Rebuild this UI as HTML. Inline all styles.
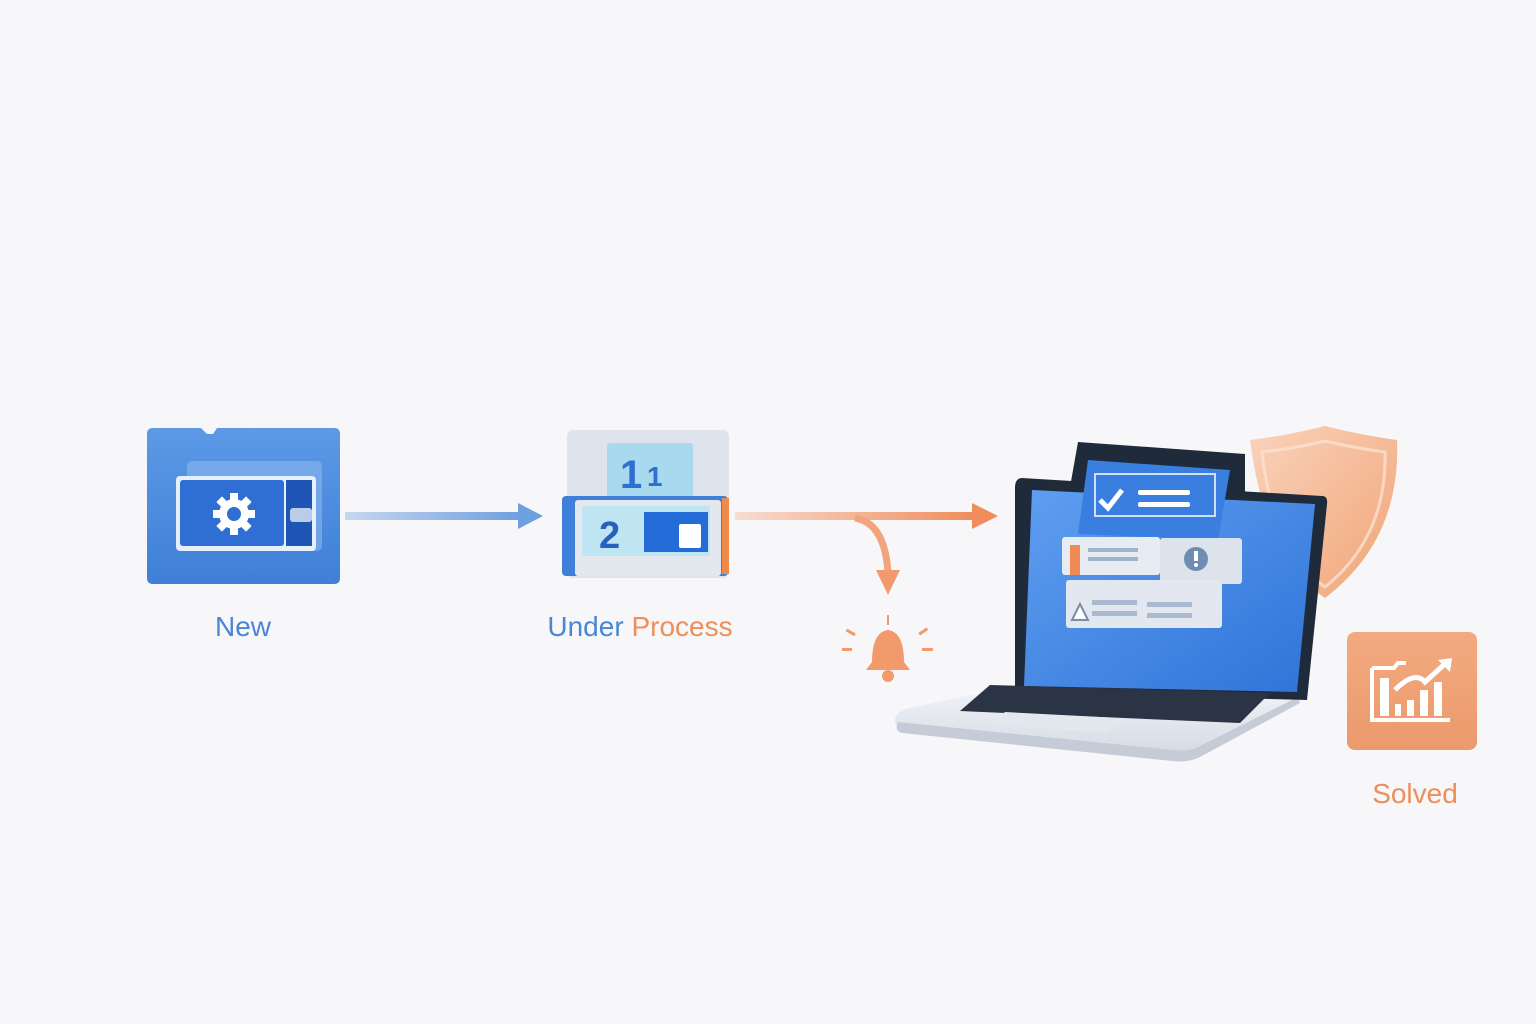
<!DOCTYPE html>
<html><head><style>
html,body{margin:0;padding:0;background:#f7f7fa;}
svg{display:block;}
text{font-family:"Liberation Sans","DejaVu Sans",sans-serif;}
</style></head><body>
<svg width="1536" height="1024" viewBox="0 0 1536 1024" xmlns="http://www.w3.org/2000/svg">
<defs>
<linearGradient id="fold" x1="0" y1="0" x2="0" y2="1"><stop offset="0" stop-color="#5c9ae6"/><stop offset="1" stop-color="#3f7fd6"/></linearGradient>
<linearGradient id="a1" x1="0" x2="1"><stop offset="0" stop-color="#c7d7ef"/><stop offset="1" stop-color="#6e9fde"/></linearGradient>
<linearGradient id="a2" x1="0" x2="1"><stop offset="0" stop-color="#f6ddd3"/><stop offset="1" stop-color="#f08d5b"/></linearGradient>
<linearGradient id="scr" x1="0" y1="0" x2="1" y2="1"><stop offset="0" stop-color="#5f9ef0"/><stop offset="1" stop-color="#2f74d8"/></linearGradient>
<linearGradient id="sh" x1="0" y1="0" x2="1" y2="1"><stop offset="0" stop-color="#fad3bd"/><stop offset="1" stop-color="#f0a475"/></linearGradient>
<linearGradient id="sol" x1="0" y1="0" x2="0" y2="1"><stop offset="0" stop-color="#f3aa80"/><stop offset="1" stop-color="#eb9a6c"/></linearGradient>
<linearGradient id="base" x1="0" y1="0" x2="0" y2="1"><stop offset="0" stop-color="#f1f4f8"/><stop offset="1" stop-color="#d3d9e3"/></linearGradient>
</defs>
<rect width="1536" height="1024" fill="#f7f7fa"/>

<!-- New folder -->
<path d="M147 434 q0-6 6-6 h48 l6 6 l6 0 l4-6 h117 q6 0 6 6 v144 q0 6-6 6 h-181 q-6 0-6-6z" fill="url(#fold)"/>
<rect x="187" y="461" width="135" height="90" rx="5" fill="#8ab7ee" opacity="0.6"/>
<rect x="176" y="476" width="140" height="75" rx="4" fill="#e6f0fb"/>
<rect x="180" y="480" width="104" height="66" rx="3" fill="#2f6fd3"/>
<rect x="286" y="480" width="26" height="66" fill="#1f55b5"/>
<rect x="290" y="508" width="22" height="14" rx="3" fill="#b9cde9"/>
<g transform="translate(234,514)" fill="#fff">
<circle r="15"/>
<g><rect x="-4" y="-21" width="8" height="42"/><rect x="-21" y="-4" width="42" height="8"/><rect x="-4" y="-21" width="8" height="42" transform="rotate(45)"/><rect x="-4" y="-21" width="8" height="42" transform="rotate(-45)"/></g>
<circle r="7" fill="#2f6fd3"/>
</g>
<text x="243" y="636" font-size="28" fill="#4a86d6" text-anchor="middle">New</text>

<!-- arrow 1 -->
<rect x="345" y="512" width="176" height="8" fill="url(#a1)"/>
<polygon points="518,503 543,516 518,529" fill="#6e9fde"/>

<!-- Under process -->
<rect x="567" y="430" width="162" height="148" rx="6" fill="#dfe3ec"/>
<rect x="607" y="443" width="86" height="55" rx="3" fill="#a9d9ee"/>
<text x="620" y="488" font-size="40" font-weight="bold" fill="#2f6fcf">1</text>
<text x="647" y="486" font-size="28" font-weight="bold" fill="#2f6fcf">1</text>
<rect x="562" y="496" width="166" height="80" rx="4" fill="#3f7fd8"/>
<rect x="722" y="498" width="7" height="76" fill="#f08a4b"/>
<rect x="575" y="500" width="146" height="76" rx="3" fill="#e3e8ef"/>
<rect x="582" y="506" width="128" height="50" rx="2" fill="#bfe4f2"/>
<text x="599" y="548" font-size="38" font-weight="bold" fill="#2760bd">2</text>
<rect x="644" y="512" width="64" height="40" fill="#236cd8"/>
<rect x="679" y="524" width="22" height="24" rx="2" fill="#fff"/>
<text x="640" y="636" font-size="28" text-anchor="middle"><tspan fill="#4a86d6">Under </tspan><tspan fill="#ec8f5a">Process</tspan></text>

<!-- arrow 2 -->
<rect x="735" y="512" width="240" height="8" fill="url(#a2)"/>
<polygon points="972,503 998,516 972,529" fill="#f08d5b"/>
<path d="M855 518 q30 5 33 55" fill="none" stroke="#f2a57d" stroke-width="7"/>
<polygon points="876,570 900,570 888,595" fill="#f29a6c"/>

<!-- bell -->
<g fill="#f29a6c">
<path d="M872 662 q0-30 16-32 q16 2 16 32 l6 8 h-44z"/>
<circle cx="888" cy="676" r="6"/>
<rect x="887" y="615" width="2" height="10"/>
<rect x="846" y="631" width="10" height="3" transform="rotate(30 851 632)"/>
<rect x="918" y="630" width="10" height="3" transform="rotate(-35 923 631)"/>
<rect x="842" y="648" width="10" height="3"/>
<rect x="922" y="648" width="11" height="3"/>
</g>

<!-- shield -->
<path d="M1250 440 q40-5 75-14 q35 9 72 14 q4 100-72 158 q-60-40-75-158z" fill="url(#sh)"/>
<path d="M1262 452 q35-4 63-11 q30 7 60 11 q2 85-60 135 q-52-36-63-135z" fill="none" stroke="#fde0cf" stroke-width="3" opacity="0.8"/>

<!-- laptop back screen -->
<path d="M1078 442 l167 12 v60 l-178 -10z" fill="#1f2a3a"/>
<!-- base deck -->
<path d="M1015 686 l290 12 l-100 56 q-10 6 -25 5 l-270 -26 q-14 -2 -15 -12 q0 -8 10 -12z" fill="url(#base)"/>
<path d="M898 722 l275 28 q15 2 25 -3 l100 -50 l2 6 l-100 54 q-12 6 -28 4 l-270 -28 q-8 -2 -4 -11z" fill="#c5ccd8"/>
<!-- screen -->
<path d="M1022 478 l300 18 q6 0 5 8 l-20 196 l-292 -8 l0 -204 q0-10 7-10z" fill="#1f2a3a"/>
<path d="M1032 490 l283 14 l-18 188 l-273 -6z" fill="url(#scr)"/>
<!-- keyboard -->
<path d="M990 685 l280 8 l-30 30 l-280 -12z" fill="#2a3445"/>
<path d="M1005 712 l115 6 l-12 14 l-118 -7z" fill="#e3e8ef"/>
<!-- cards -->
<path d="M1088 460 l142 10 l-12 70 l-140 -6z" fill="#3a7ee0"/>
<rect x="1095" y="474" width="120" height="42" fill="none" stroke="#cfe0f8" stroke-width="2"/>
<path d="M1100 500 l8 8 l14 -18" fill="none" stroke="#fff" stroke-width="5"/>
<rect x="1138" y="490" width="52" height="5" rx="2" fill="#fff"/>
<rect x="1138" y="502" width="52" height="5" rx="2" fill="#fff"/>
<rect x="1062" y="537" width="98" height="38" rx="3" fill="#e7ecf3"/>
<rect x="1070" y="545" width="10" height="30" fill="#ef8a55"/>
<rect x="1088" y="548" width="50" height="4" fill="#9fb3cc"/>
<rect x="1088" y="557" width="50" height="4" fill="#9fb3cc"/>
<rect x="1160" y="538" width="82" height="46" rx="3" fill="#dde3ec"/>
<circle cx="1196" cy="559" r="12" fill="#6f8db3"/>
<rect x="1194" y="551" width="4" height="10" fill="#fff"/><circle cx="1196" cy="565" r="2" fill="#fff"/>
<rect x="1066" y="580" width="156" height="48" rx="3" fill="#e3e8f0"/>
<path d="M1072 620 l8 -16 l8 16z" fill="#fff" stroke="#7a8ca6" stroke-width="2"/>
<rect x="1092" y="600" width="45" height="5" fill="#aabbd0"/><rect x="1092" y="611" width="45" height="5" fill="#aabbd0"/>
<rect x="1147" y="602" width="45" height="5" fill="#aabbd0"/><rect x="1147" y="613" width="45" height="5" fill="#aabbd0"/>

<!-- solved -->
<rect x="1347" y="632" width="130" height="118" rx="8" fill="url(#sol)"/>
<path d="M1372 668 h22 l4 -5 h8 M1372 668 v52 h78" fill="none" stroke="#fff" stroke-width="4"/>
<rect x="1380" y="678" width="9" height="38" fill="#fff"/>
<rect x="1395" y="704" width="6" height="12" fill="#fff"/>
<rect x="1407" y="700" width="7" height="16" fill="#fff"/>
<rect x="1420" y="690" width="8" height="26" fill="#fff"/>
<rect x="1434" y="682" width="8" height="34" fill="#fff"/>
<path d="M1395 690 q20 -20 30 -8 l22 -20" fill="none" stroke="#fff" stroke-width="5"/>
<polygon points="1438,660 1452,658 1450,672" fill="#fff"/>
<text x="1415" y="803" font-size="28" fill="#ec8f5a" text-anchor="middle">Solved</text>
</svg>
</body></html>
